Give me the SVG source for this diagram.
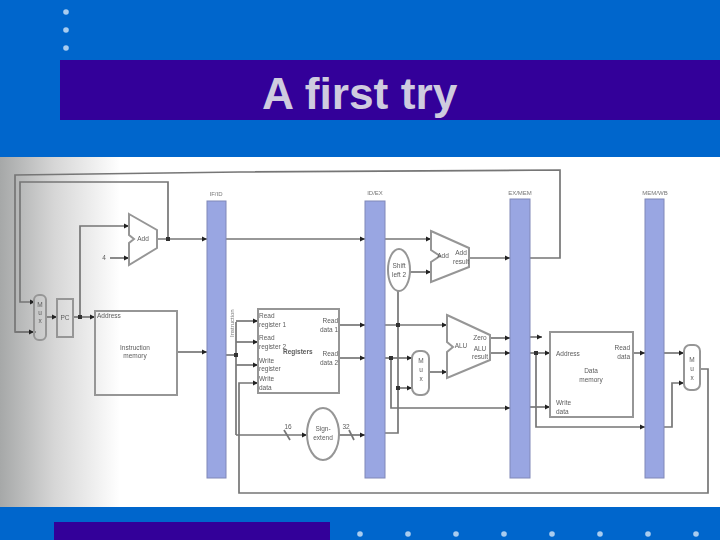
<svg xmlns="http://www.w3.org/2000/svg" width="720" height="540" viewBox="0 0 720 540">
<style>
.w{fill:none;stroke:#767676;stroke-width:1.7}
.a{marker-end:url(#ah)}
.b{fill:#fff;fill-opacity:0;stroke:#969696;stroke-width:2}
.l{font-family:"Liberation Sans",Arial,sans-serif;font-size:6.5px;fill:#5c5c5c}
.m{text-anchor:middle}
.s{font-family:"Liberation Sans",Arial,sans-serif;font-size:6px;fill:#777;text-anchor:middle}
.p{fill:#99a6e2;stroke:#8088b8;stroke-width:1}
.d{fill:#a9ccef}
.j{fill:#333}
</style>
<defs>
<linearGradient id="g" x1="0" y1="0" x2="1" y2="0">
<stop offset="0" stop-color="#a6a8a8"/>
<stop offset=".45" stop-color="#d6d6d6"/>
<stop offset="1" stop-color="#fff"/>
</linearGradient>
<marker id="ah" markerUnits="userSpaceOnUse" markerWidth="6" markerHeight="6" refX="5" refY="3" orient="auto">
<path d="M0 .5L5 3L0 5.500Z" fill="#222"/>
</marker>
<filter id="bl" filterUnits="userSpaceOnUse" x="0" y="157" width="720" height="350">
<feGaussianBlur stdDeviation="0.7"/>
</filter>
</defs>
<rect width="720" height="540" fill="#0066cc"/>
<rect x="0" y="157" width="720" height="350" fill="#fff"/>
<rect x="0" y="157" width="120" height="350" fill="url(#g)"/>
<g id="header">
<circle class="d" cx="66" cy="12" r="2.800"/><circle class="d" cx="66" cy="30" r="2.800"/><circle class="d" cx="66" cy="48" r="2.800"/>
<rect x="60" y="60" width="660" height="60" fill="#330099"/>
<text x="262" y="109" font-family="'Liberation Sans',Arial,sans-serif" font-size="44.300" font-weight="700" fill="#cfcbdf">A first try</text>
</g>
<g id="footer">
<rect x="54" y="522" width="276" height="18" fill="#330099"/>
<circle class="d" cx="360" cy="534" r="2.800"/><circle class="d" cx="408" cy="534" r="2.800"/><circle class="d" cx="456" cy="534" r="2.800"/><circle class="d" cx="504" cy="534" r="2.800"/><circle class="d" cx="552" cy="534" r="2.800"/><circle class="d" cx="600" cy="534" r="2.800"/><circle class="d" cx="648" cy="534" r="2.800"/><circle class="d" cx="696" cy="534" r="2.800"/>
</g>
<g filter="url(#bl)">
<g id="connectors">
<path class="w" d="M528 258H560V170L240 172L15 175V332H36"/>
<path class="w a" d="M15 332H34"/>
<path class="w a" d="M168 239V182H20V302H35"/>
<path class="w a" d="M46 317H57"/>
<path class="w a" d="M73 317H95"/>
<path class="w a" d="M80 317V226H129"/>
<path class="w a" d="M110 258H129"/>
<path class="w a" d="M157 239H207"/>
<path class="w a" d="M226 239H365"/>
<path class="w a" d="M385 239H431"/>
<path class="w a" d="M177 352H207"/>
<path class="w" d="M226 355H236"/>
<path class="w" d="M236 322V435"/>
<path class="w a" d="M236 321H258"/>
<path class="w a" d="M236 342H258"/>
<path class="w a" d="M236 365H258"/>
<path class="w a" d="M236 435H307"/>
<path class="w" d="M284 430L290 440"/>
<path class="w a" d="M339 435H365"/>
<path class="w" d="M349 430L354 440"/>
<path class="w a" d="M339 325H365"/>
<path class="w a" d="M339 358H365"/>
<path class="w a" d="M385 325H447"/>
<path class="w a" d="M385 358H412"/>
<path class="w" d="M385 433H398V291"/>
<path class="w a" d="M398 388H412"/>
<path class="w a" d="M410 272H431"/>
<path class="w a" d="M429 372H447"/>
<path class="w a" d="M469 258H510"/>
<path class="w a" d="M391 358V408H510"/>
<path class="w a" d="M490 338H510"/>
<path class="w a" d="M490 353H510"/>
<path class="w a" d="M530 337H542"/>
<path class="w a" d="M530 353H550"/>
<path class="w a" d="M530 407H550"/>
<path class="w a" d="M536 353V427H645"/>
<path class="w a" d="M633 353H645"/>
<path class="w a" d="M664 353H684"/>
<path class="w a" d="M664 427H672V383H684"/>
<path class="w a" d="M700 369H708V493H239V383H258"/>
<rect class="j" x="166" y="237" width="4" height="4"/>
<rect class="j" x="78" y="315" width="4" height="4"/>
<rect class="j" x="234" y="353" width="4" height="4"/>
<rect class="j" x="389" y="356" width="4" height="4"/>
<rect class="j" x="396" y="323" width="4" height="4"/>
<rect class="j" x="396" y="386" width="4" height="4"/>
<rect class="j" x="534" y="351" width="4" height="4"/>
</g>
<g id="if-id"><rect class="p" x="207" y="201" width="19" height="277"/><text class="s" x="216" y="196">IF/ID</text></g>
<g id="id-ex"><rect class="p" x="365" y="201" width="20" height="277"/><text class="s" x="375" y="195">ID/EX</text></g>
<g id="ex-mem"><rect class="p" x="510" y="199" width="20" height="279"/><text class="s" x="520" y="195">EX/MEM</text></g>
<g id="mem-wb"><rect class="p" x="645" y="199" width="19" height="279"/><text class="s" x="655" y="195">MEM/WB</text></g>
<g id="pc-mux"><rect class="b" x="34" y="295" width="12" height="45" rx="5"/><text class="l m"><tspan x="40" y="307">M</tspan><tspan x="40" y="315">u</tspan><tspan x="40" y="323">x</tspan></text></g>
<g id="pc"><rect class="b" x="57" y="299" width="16" height="38"/><text class="l m" x="65" y="320">PC</text></g>
<g id="add-pc"><path class="b" d="M129 214L157 230V248L129 265V243L134 239L129 235Z"/><text class="l m" x="143" y="241">Add</text></g>
<g id="constant"><text class="l m" x="104" y="260">4</text></g>
<g id="instruction-memory"><rect class="b" x="95" y="311" width="82" height="84"/><text class="l" x="97" y="318">Address</text><text class="l m"><tspan x="135" y="350">Instruction</tspan><tspan x="135" y="358">memory</tspan></text></g>
<g id="instruction-label"><text class="s" transform="translate(234 337) rotate(-90)" style="text-anchor:start">Instruction</text></g>
<g id="registers"><rect class="b" x="258" y="309" width="81" height="84"/>
<text class="l"><tspan x="259" y="318">Read</tspan><tspan x="259" y="327">register 1</tspan><tspan x="259" y="340">Read</tspan><tspan x="259" y="349">register 2</tspan><tspan x="259" y="363">Write</tspan><tspan x="259" y="371">register</tspan><tspan x="259" y="381">Write</tspan><tspan x="259" y="390">data</tspan></text>
<text class="l" x="283" y="354" font-weight="700">Registers</text>
<text class="l" style="text-anchor:end"><tspan x="338" y="323">Read</tspan><tspan x="338" y="332">data 1</tspan><tspan x="338" y="356">Read</tspan><tspan x="338" y="365">data 2</tspan></text></g>
<g id="sign-extend"><ellipse class="b" cx="323" cy="434" rx="16" ry="26"/><text class="l m"><tspan x="323" y="431">Sign-</tspan><tspan x="323" y="440">extend</tspan></text></g>
<g id="bit16"><text class="l m" x="288" y="429">16</text></g>
<g id="bit32"><text class="l m" x="346" y="429">32</text></g>
<g id="shift-left"><ellipse class="b" cx="399" cy="270" rx="11" ry="21"/><text class="l m"><tspan x="399" y="268">Shift</tspan><tspan x="399" y="277">left 2</tspan></text></g>
<g id="add-branch"><path class="b" d="M431 231L469 248V267L431 282V262L440 256L431 250Z"/><text class="l m" x="443" y="258">Add</text><text class="l m"><tspan x="461" y="255">Add</tspan><tspan x="461" y="264">result</tspan></text></g>
<g id="alu-mux"><rect class="b" x="412" y="351" width="17" height="44" rx="7"/><text class="l m"><tspan x="421" y="363">M</tspan><tspan x="421" y="372">u</tspan><tspan x="421" y="381">x</tspan></text></g>
<g id="alu"><path class="b" d="M447 315L490 335V360L447 378V352L453 347L447 342Z"/><text class="l m" x="461" y="348">ALU</text><text class="l m"><tspan x="480" y="340">Zero</tspan><tspan x="480" y="351">ALU</tspan><tspan x="480" y="359">result</tspan></text></g>
<g id="data-memory"><rect class="b" x="550" y="332" width="83" height="85"/><text class="l" x="556" y="356">Address</text><text class="l" style="text-anchor:end"><tspan x="630" y="350">Read</tspan><tspan x="630" y="359">data</tspan></text><text class="l m"><tspan x="591" y="373">Data</tspan><tspan x="591" y="382">memory</tspan></text><text class="l"><tspan x="556" y="405">Write</tspan><tspan x="556" y="414">data</tspan></text></g>
<g id="wb-mux"><rect class="b" x="684" y="345" width="16" height="45" rx="6"/><text class="l m"><tspan x="692" y="362">M</tspan><tspan x="692" y="371">u</tspan><tspan x="692" y="380">x</tspan></text></g>
</g>
</svg>
